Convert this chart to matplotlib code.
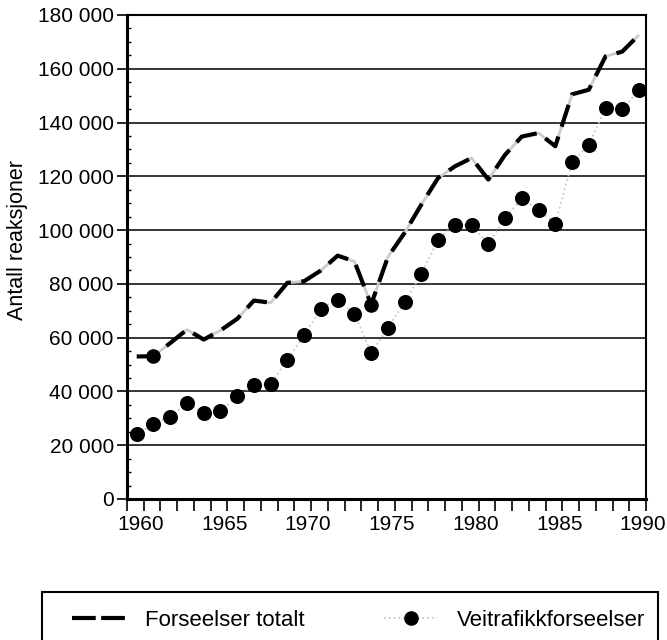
import matplotlib
matplotlib.use("Agg")
import matplotlib.pyplot as plt
from matplotlib.ticker import MultipleLocator, FuncFormatter
from matplotlib.transforms import ScaledTranslation
from matplotlib.lines import Line2D
from matplotlib.patches import Rectangle

plt.rcParams['font.family'] = ['Liberation Sans', 'DejaVu Sans']

years = list(range(1960, 1991))
forseelser_totalt = [53000, 53100, 58000, 63000, 59300, 62700, 67000, 73800, 73000, 80400,
                     81000, 85000, 90500, 88400, 72300, 90000, 99000, 109500, 119400, 123700,
                     126800, 118800, 128000, 134800, 136100, 131200, 150500, 152200, 164600,
                     166400, 172600]
veitrafikk = [24000, 27950, 30550, 35750, 32000, 32650, 38200, 42550, 42800, 51850,
              60900, 70800, 74150, 68950, 54350, 63650, 73150, 83800, 96450, 102000,
              102000, 94700, 104500, 111800, 107350, 102400, 125300, 131750, 145400,
              145050, 151950]
marked_years = [1961, 1974]
labels = ["Forseelser totalt", "Veitrafikkforseelser"]
ylabel = "Antall reaksjoner"

fig = plt.figure(figsize=(6.67, 6.40), dpi=100)
ax = fig.add_axes([127/667, 1-499/640, (646-127)/667, (499-15)/640])

shift = ax.transData + ScaledTranslation(-7/100, 0, fig.dpi_scale_trans)

ax.set_xlim(1959, 1990)
ax.set_ylim(0, 180000)

for v in range(20000, 180000, 20000):
    ax.axhline(v, color='black', lw=1.1, zorder=1)

# total series: gray underlay + black dashes
ax.plot(years, forseelser_totalt, color='#cccccc', lw=2.0, transform=shift, zorder=2,
        solid_capstyle='butt')
ax.plot(years, forseelser_totalt, color='black', lw=3.0, dashes=(5.5, 2.5),
        transform=shift, zorder=3, dash_capstyle='butt')
# markers on total line
mk_vals = [forseelser_totalt[years.index(y)] for y in marked_years]
ax.plot(marked_years, mk_vals, 'o', color='black', ms=9.5, transform=shift, zorder=4)

# veitrafikk: faint dotted connection + dots
ax.plot(years, veitrafikk, color='#c8c8c8', lw=1.3, ls=':', transform=shift, zorder=2)
ax.plot(years, veitrafikk, 'o', color='black', ms=9.8, transform=shift, zorder=4,
        clip_on=False)

ax.xaxis.set_major_locator(MultipleLocator(5))
ax.xaxis.set_minor_locator(MultipleLocator(1))
ax.yaxis.set_major_locator(MultipleLocator(20000))
ax.yaxis.set_minor_locator(MultipleLocator(5000))
ax.yaxis.set_major_formatter(FuncFormatter(lambda v, p: f"{int(v):,}".replace(",", " ")))

ax.tick_params(axis='x', which='both', direction='out', length=8.5, width=1.2,
               labelsize=15, pad=3)
ax.tick_params(axis='y', which='major', direction='out', length=7.5, width=1.2,
               labelsize=15, pad=2)
ax.tick_params(axis='y', which='minor', direction='in', length=3, width=1.0)

fig.canvas.draw()
lab_shift = ScaledTranslation(-3/100, 0, fig.dpi_scale_trans)
for lab in ax.get_xticklabels():
    lab.set_transform(lab.get_transform() + lab_shift)

for side in ['left', 'bottom']:
    ax.spines[side].set_linewidth(2.2)
for side in ['top', 'right']:
    ax.spines[side].set_linewidth(1.5)

ax.set_ylabel(ylabel, fontsize=15.5)
ax.yaxis.set_label_coords(-0.19, 0.535)

# legend
h1 = Line2D([0], [0], color='black', lw=3.0, dashes=(5.7, 1.3), dash_capstyle='butt')
h2 = Line2D([0], [0], color='#c8c8c8', lw=1.3, ls=':', marker='o',
            markerfacecolor='black', markeredgecolor='black', ms=9.5)
fig.legend([h1, h2], labels, loc='center', bbox_to_anchor=(0.538, 1-620/640),
           ncol=2, frameon=False, fontsize=16, handlelength=2.4,
           handletextpad=0.9, columnspacing=3.55)
fig.patches.append(Rectangle((42/667, -0.05), (658-42)/667, (0.05 + 1-592/640),
                             transform=fig.transFigure, fill=False,
                             edgecolor='black', lw=1.5))

fig.savefig("out.png", dpi=100)
